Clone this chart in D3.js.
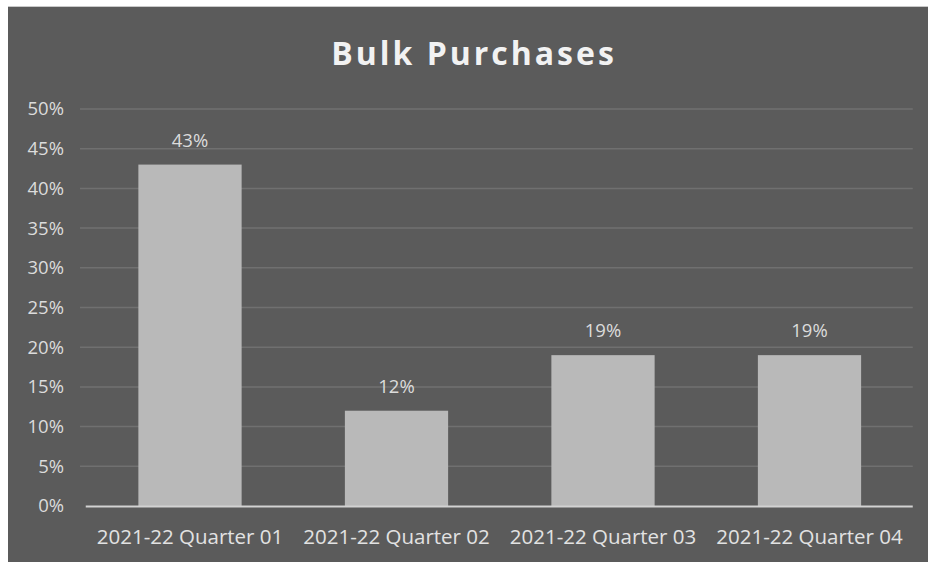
<!DOCTYPE html>
<html>
<head>
<meta charset="utf-8">
<script src="https://cdn.jsdelivr.net/npm/d3@7"></script>
<style>
  html, body { margin: 0; padding: 0; background: #ffffff; }
  svg { display: block; }
</style>
</head>
<body>
<svg id="chart" width="928" height="562"></svg>
<script>
// Bulk purchase share by quarter
const title = "Bulk Purchases";
const categories = ["2021-22 Quarter 01", "2021-22 Quarter 02", "2021-22 Quarter 03", "2021-22 Quarter 04"];
const values = [0.43, 0.12, 0.19, 0.19];
const yTicks = [0, 0.05, 0.10, 0.15, 0.20, 0.25, 0.30, 0.35, 0.40, 0.45, 0.50];

const W = 928, H = 562;
const panel = { x: 8, y: 7 };
const plot = { left: 86.75, right: 912.75, top: 109, bottom: 506 };
const font = "'Open Sans', 'DejaVu Sans', sans-serif";

const svg = d3.select("#chart");

// chart area background
svg.append("rect")
  .attr("x", panel.x).attr("y", panel.y)
  .attr("width", W - panel.x).attr("height", H - panel.y)
  .attr("fill", "#5b5b5b");
svg.append("line")
  .attr("x1", panel.x).attr("x2", W)
  .attr("y1", panel.y - 0.5).attr("y2", panel.y - 0.5)
  .attr("stroke", "#c9c9c9").attr("stroke-width", 1);

const x = d3.scaleBand()
  .domain(categories)
  .range([plot.left, plot.right])
  .paddingInner(0.5)
  .paddingOuter(0.25);

const y = d3.scaleLinear()
  .domain([0, 0.5])
  .range([plot.bottom, plot.top]);

const pct = d3.format(".0%");

// horizontal gridlines
svg.append("g")
  .selectAll("line")
  .data(yTicks.filter(d => d > 0))
  .join("line")
  .attr("x1", 80).attr("x2", plot.right)
  .attr("y1", d => y(d)).attr("y2", d => y(d))
  .attr("stroke", "#707070").attr("stroke-width", 1.5);

// y axis labels
const yAxis = d3.axisLeft(y).tickValues(yTicks).tickFormat(pct).tickSize(0).tickPadding(0);
const yg = svg.append("g")
  .attr("transform", "translate(64,0)")
  .call(yAxis);
yg.select(".domain").remove();
yg.selectAll("text")
  .attr("fill", "#dcdcdc")
  .attr("font-family", font)
  .attr("font-size", 18.5);

// bars
svg.append("g")
  .selectAll("rect")
  .data(values)
  .join("rect")
  .attr("x", (d, i) => x(categories[i]))
  .attr("y", d => y(d))
  .attr("width", x.bandwidth())
  .attr("height", d => y(0) - y(d))
  .attr("fill", "#b9b9b9");

// baseline
svg.append("line")
  .attr("x1", plot.left - 1).attr("x2", plot.right)
  .attr("y1", y(0) + 0.5).attr("y2", y(0) + 0.5)
  .attr("stroke", "#d2d2d2").attr("stroke-width", 2);

// x axis labels
const xAxis = d3.axisBottom(x).tickSize(0).tickPadding(0);
const xg = svg.append("g")
  .attr("transform", `translate(0,${plot.bottom + 31})`)
  .call(xAxis);
xg.select(".domain").remove();
xg.selectAll("text")
  .attr("dy", "0.35em")
  .attr("fill", "#e2e2e2")
  .attr("font-family", font)
  .attr("font-size", 20.5);

// value labels
svg.append("g")
  .selectAll("text")
  .data(values)
  .join("text")
  .attr("x", (d, i) => x(categories[i]) + x.bandwidth() / 2)
  .attr("y", d => y(d) - 23)
  .attr("text-anchor", "middle")
  .attr("dominant-baseline", "middle")
  .attr("fill", "#dcdcdc")
  .attr("font-family", font)
  .attr("font-size", 18.5)
  .text(d => pct(d));

// title
svg.append("text")
  .attr("x", 474)
  .attr("y", 65)
  .attr("text-anchor", "middle")
  .attr("fill", "#f2f2f2")
  .attr("font-family", font)
  .attr("font-weight", "bold")
  .attr("font-size", 32)
  .attr("letter-spacing", 3)
  .text(title);
</script>
</body>
</html>
